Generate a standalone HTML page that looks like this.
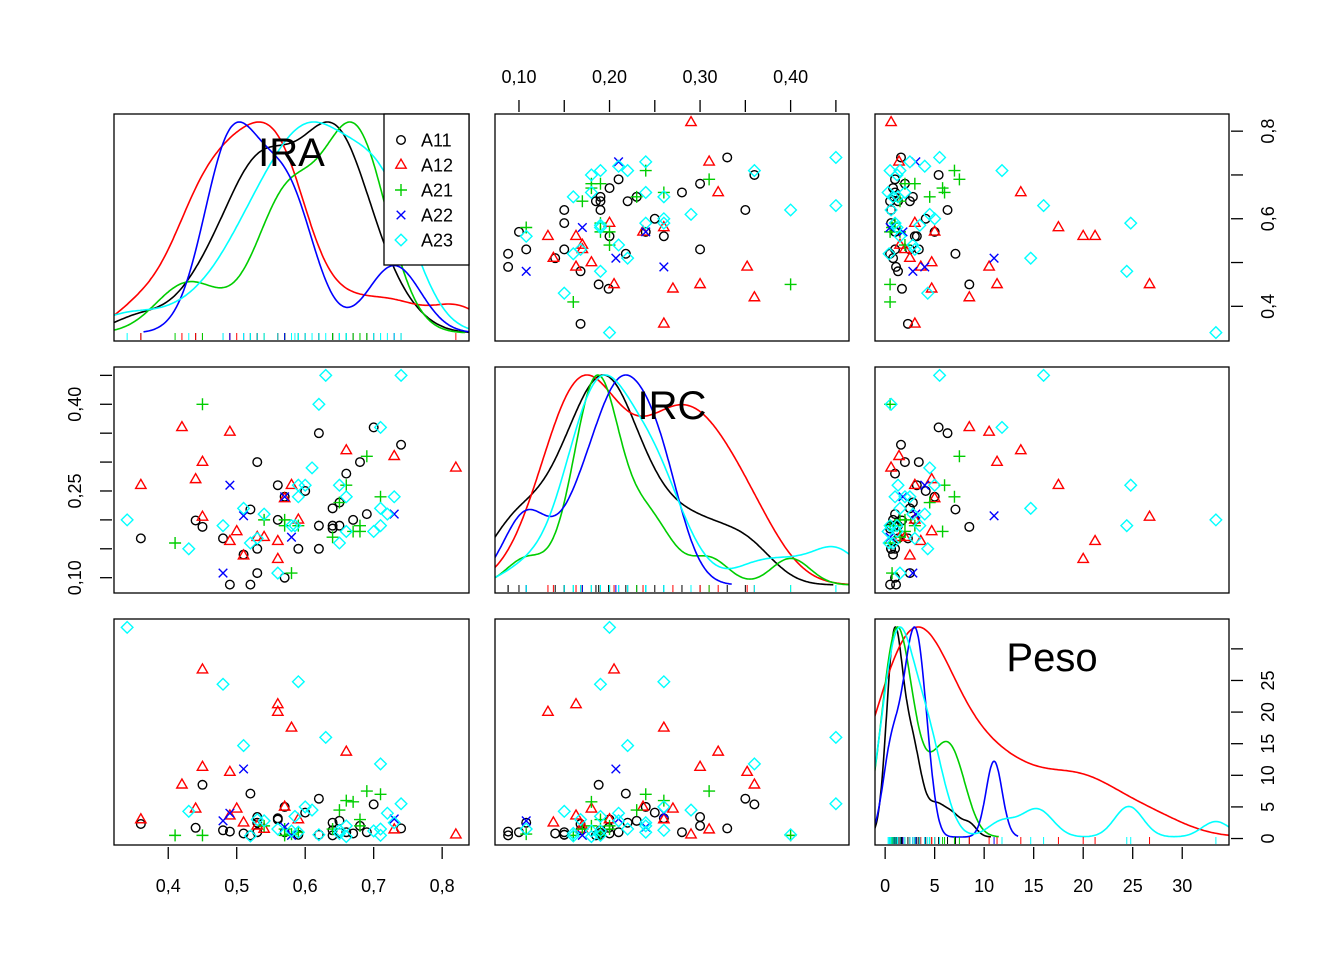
<!DOCTYPE html>
<html><head><meta charset="utf-8"><style>
html,body{margin:0;padding:0;background:#fff}
svg{display:block;font-family:"Liberation Sans",Arial,sans-serif}
</style></head><body>
<svg id="chart" width="1344" height="960" viewBox="0 0 1344 960"></svg>
<script>
const groupNames=["A11","A12","A21","A22","A23"];
const group=[0,0,0,0,0,0,0,0,0,0,0,0,0,0,0,0,0,0,0,0,0,0,0,0,0,0,0,0,0,0,0,
1,1,1,1,1,1,1,1,1,1,1,1,1,1,1,1,1,1,1,
2,2,2,2,2,2,2,2,2,2,2,2,2,2,2,
3,3,3,3,3,3,
4,4,4,4,4,4,4,4,4,4,4,4,4,4,4,4,4,4,4,4,4,4,4,4,4,4,4];
const ira=[.53,.56,.57,.36,.44,.45,.48,.52,.56,.53,.51,.49,.52,.53,.57,.59,.62,.70,.74,.68,.66,.60,.65,.64,.69,.67,.62,.64,.65,.64,.62,
.42,.49,.45,.36,.44,.58,.57,.45,.49,.50,.53,.54,.56,.51,.56,.66,.73,.82,.59,
.45,.41,.54,.57,.57,.58,.69,.66,.65,.71,.68,.68,.67,.64,.59,
.49,.51,.48,.58,.57,.73,
.34,.43,.48,.51,.54,.58,.53,.52,.56,.63,.74,.62,.71,.61,.65,.59,.60,.59,.66,.73,.71,.72,.71,.70,.66,.65,.585];
const irc=[.30,.26,.24,.168,.199,.188,.168,.218,.20,.15,.14,.088,.088,.108,.10,.15,.35,.36,.33,.30,.28,.25,.23,.22,.21,.20,.19,.19,.19,.185,.15,
.36,.352,.30,.26,.27,.26,.237,.205,.163,.18,.17,.17,.163,.138,.132,.32,.31,.29,.20,
.40,.16,.20,.20,.19,.108,.31,.26,.23,.24,.19,.18,.18,.17,.19,
.26,.207,.108,.17,.24,.21,
.20,.15,.19,.22,.21,.19,.168,.16,.108,.45,.45,.40,.36,.29,.26,.26,.26,.24,.24,.24,.22,.21,.19,.18,.18,.16,.19];
const peso=[3.4,3.2,5.0,2.3,1.7,8.5,1.3,7.1,3.0,1.0,0.8,1.1,0.5,2.5,1.0,0.6,6.3,5.4,1.6,2.0,1.0,4.1,2.8,2.5,1.0,0.8,0.6,1.3,0.9,0.5,0.6,
8.5,10.5,11.3,3.0,4.7,17.5,5.0,26.7,3.6,4.7,2.0,1.5,21.2,2.5,20.0,13.7,1.4,0.6,3.0,
0.5,0.5,2.0,1.5,0.5,0.7,7.5,6.0,4.5,7.0,3.0,2.0,5.8,1.5,1.0,
4.0,11.0,2.8,0.5,1.8,3.1,
33.4,4.3,24.4,14.7,2.8,1.2,3.0,0.4,1.5,16.0,5.5,0.6,11.8,4.5,1.3,24.8,5.0,1.0,2.0,2.5,1.5,4.0,0.5,1.2,0.3,0.8,3.5];
const varNames=["IRA","IRC","Peso"];
const iraTicks=[0.4,0.5,0.6,0.7,0.8];
const iraTickLabels=["0,4","0,5","0,6","0,7","0,8"];
const iraRightTicks=[0.4,0.5,0.6,0.7,0.8];
const iraRightLabels=["0,4","","0,6","","0,8"];
const ircTicks=[0.10,0.15,0.20,0.25,0.30,0.35,0.40,0.45];
const ircTopLabels=["0,10","","0,20","","0,30","","0,40",""];
const ircLeftLabels=["0,10","","","0,25","","","0,40",""];
const pesoTicks=[0,5,10,15,20,25,30];
const pesoBottomLabels=["0","5","10","15","20","25","30"];
const pesoRightLabels=["0","5","10","15","20","25",""];

const colors=["#000000","#ff0000","#00cd00","#0000ff","#00ffff"];
const NS="http://www.w3.org/2000/svg";
const svg=document.getElementById("chart");
const vars=[ira,irc,peso];
const colX=[[114,469],[495,849],[875,1229]];
const rowY=[[114,341],[367,593],[619,845]];
function range(a){const mn=Math.min(...a),mx=Math.max(...a),r=mx-mn;return [mn-0.04*r,mx+0.04*r];}
const ranges=vars.map(range);
function sx(v,c,val){const [lo,hi]=ranges[v];return colX[c][0]+(val-lo)/(hi-lo)*(colX[c][1]-colX[c][0]);}
function sy(v,r,val){const [lo,hi]=ranges[v];return rowY[r][1]-(val-lo)/(hi-lo)*(rowY[r][1]-rowY[r][0]);}
function mk(tag,attrs,parent){const e=document.createElementNS(NS,tag);for(const k in attrs)e.setAttribute(k,attrs[k]);(parent||svg).appendChild(e);return e;}

const defs=mk("defs",{});
for(let r=0;r<3;r++)for(let c=0;c<3;c++){
  const cp=mk("clipPath",{id:"cp"+r+c},defs);
  mk("rect",{x:colX[c][0],y:rowY[r][0],width:colX[c][1]-colX[c][0],height:rowY[r][1]-rowY[r][0]},cp);
}
function symbol(g,x,y,parent){
  const col=colors[g];const st={fill:"none",stroke:col,"stroke-width":1.4};
  let e;
  if(g===0){e=mk("circle",Object.assign({cx:x,cy:y,r:4.3},st),parent);}
  else if(g===1){e=mk("polygon",Object.assign({points:`${x},${y-5.8} ${x+5.2},${y+3.2} ${x-5.2},${y+3.2}`},st),parent);}
  else if(g===2){e=mk("path",Object.assign({d:`M${x-6},${y}H${x+6}M${x},${y-6}V${y+6}`},st),parent);}
  else if(g===3){e=mk("path",Object.assign({d:`M${x-4.3},${y-4.3}L${x+4.3},${y+4.3}M${x-4.3},${y+4.3}L${x+4.3},${y-4.3}`},st),parent);}
  else {e=mk("polygon",Object.assign({points:`${x},${y-5.8} ${x+5.8},${y} ${x},${y+5.8} ${x-5.8},${y}`},st),parent);}
  return e;
}
function sd(a){const m=a.reduce((s,v)=>s+v,0)/a.length;return Math.sqrt(a.reduce((s,v)=>s+(v-m)*(v-m),0)/(a.length-1));}
function quant(a,p){const s=[...a].sort((x,y)=>x-y);const h=(s.length-1)*p;const i=Math.floor(h);return s[i]+(h-i)*((s[Math.min(i+1,s.length-1)])-s[i]);}
function bw(a){const lo=Math.min(sd(a),(quant(a,.75)-quant(a,.25))/1.34);return 0.9*(lo>0?lo:sd(a))*Math.pow(a.length,-0.2);}

for(let r=0;r<3;r++)for(let c=0;c<3;c++){
  const pg=mk("g",{"clip-path":`url(#cp${r}${c})`});
  
  
  if(r===c){
    const v=vars[r];
    for(let g=0;g<5;g++){
      const a=v.filter((_,i)=>group[i]===g);
      const h=bw(a);const lo=Math.min(...a)-3*h,hi=Math.max(...a)+3*h;
      const pts=[];let mx=0;
      for(let k=0;k<=300;k++){const x=lo+(hi-lo)*k/300;let d=0;for(const t of a)d+=Math.exp(-0.5*((x-t)/h)**2);pts.push([x,d]);if(d>mx)mx=d;}
      const top=rowY[r][0]+8,bot=rowY[r][1]-8;
      const dstr=pts.map((p,k)=>(k?"L":"M")+sx(r,c,p[0]).toFixed(1)+","+(bot-(p[1]/mx)*(bot-top)).toFixed(1)).join("");
      const path=mk("path",{d:dstr,fill:"none",stroke:colors[g],"stroke-width":1.6},pg);
      
      
    }
    for(let i=0;i<v.length;i++){
      const x=sx(r,c,v[i]);
      const t=mk("line",{x1:x,x2:x,y1:rowY[r][1]-8,y2:rowY[r][1]-1,stroke:colors[group[i]],"stroke-width":1},pg);
      
      
    }
    const lab=mk("text",{x:(colX[c][0]+colX[c][1])/2,y:rowY[r][0]+52,"text-anchor":"middle","font-size":40,fill:"#000"});
    lab.textContent=varNames[r];
    
    
  } else {
    for(let i=0;i<ira.length;i++){
      const s=symbol(group[i],sx(c,c,vars[c][i]),sy(r,r,vars[r][i]),pg);
      
      
    }
  }
  const fr=mk("rect",{x:colX[c][0],y:rowY[r][0],width:colX[c][1]-colX[c][0],height:rowY[r][1]-rowY[r][0],fill:"none",stroke:"#000","stroke-width":1.3});
  
  
}

function hAxis(v,c,yEdge,dir,ticks,labels,name){
  const g=mk("g",{});
  
  
  ticks.forEach((t,k)=>{
    const x=sx(v,c,t);
    mk("line",{x1:x,x2:x,y1:yEdge+dir*2,y2:yEdge+dir*14,stroke:"#000","stroke-width":1.3},g);
    if(labels[k]){const tx=mk("text",{x:x,y:dir>0?yEdge+47:yEdge-31,"text-anchor":"middle","font-size":18},g);tx.textContent=labels[k];}
  });
}
function vAxis(v,r,xEdge,dir,ticks,labels,name){
  const g=mk("g",{});
  
  
  ticks.forEach((t,k)=>{
    const y=sy(v,r,t);
    mk("line",{x1:xEdge+dir*2,x2:xEdge+dir*14,y1:y,y2:y,stroke:"#000","stroke-width":1.3},g);
    if(labels[k]){const lx=dir>0?xEdge+39:xEdge-39;const tx=mk("text",{x:lx,y:y,"text-anchor":"middle","font-size":18,transform:`rotate(-90 ${lx} ${y})`,"dominant-baseline":"central"},g);tx.textContent=labels[k];}
  });
}
hAxis(0,0,845,1,iraTicks,iraTickLabels,"x-axis-ira");
hAxis(2,2,845,1,pesoTicks,pesoBottomLabels,"x-axis-peso");
hAxis(1,1,114,-1,ircTicks,ircTopLabels,"x-axis-irc-top");
vAxis(1,1,114,-1,ircTicks,ircLeftLabels,"y-axis-irc-left");
vAxis(0,0,1229,1,iraRightTicks,iraRightLabels,"y-axis-ira-right");
vAxis(2,2,1229,1,pesoTicks,pesoRightLabels,"y-axis-peso-right");

const lg=mk("g",{});


mk("rect",{x:384,y:114,width:85,height:151,fill:"#fff",stroke:"#000","stroke-width":1.3},lg);
groupNames.forEach((n,g)=>{
  const y=140+g*25;
  const e=mk("g",{},lg);
  
  
  symbol(g,401,y,e);
  const t=mk("text",{x:421,y:y+6.5,"font-size":18},e);t.textContent=n;
});
</script>
</body></html>
